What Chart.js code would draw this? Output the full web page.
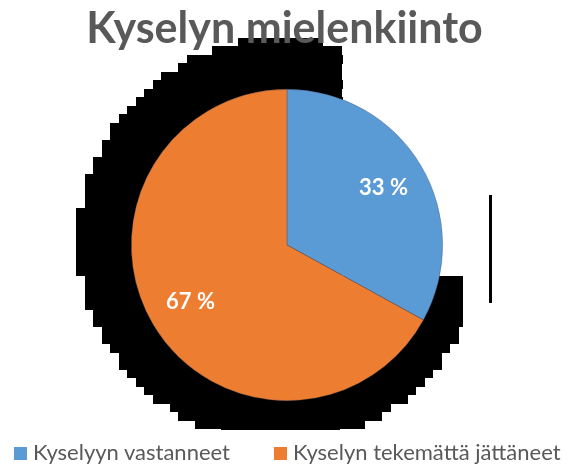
<!DOCTYPE html>
<html>
<head>
<meta charset="utf-8">
<script src="https://cdn.jsdelivr.net/npm/chart.js@4"></script>
<style>
  html, body { margin: 0; padding: 0; background: #ffffff; }
  #wrap { position: relative; width: 569px; height: 465px; overflow: hidden; }
  #title {
    position: absolute; left: 0; width: 569px; top: 5px;
    text-align: center; font: bold 43px/43px Lato, sans-serif; color: #595959;
    white-space: nowrap;
  }
  #legend {
    position: absolute; left: 14px; top: 441px;
    font: 22px/22px Lato, sans-serif; color: #595959; white-space: nowrap;
  }
  .item { display: inline-block; }
  .item:first-child { width: 260px; }
  .box { display: inline-block; width: 13px; height: 13px; margin-right: 6px; }
</style>
</head>
<body>
<div id="wrap">
  <canvas id="pieChart" width="569" height="465"></canvas>
  <div id="title"></div>
  <div id="legend"></div>
</div>
<script>
const labels = ["Kyselyyn vastanneet", "Kyselyn tekemättä jättäneet"];
const values = [33, 67];
const sliceColors = ["#5b9bd5", "#ed7d31"];
const chartTitle = "Kyselyn mielenkiinto";

document.getElementById("title").textContent = chartTitle;
const legendEl = document.getElementById("legend");
labels.forEach((l, i) => {
    const item = document.createElement("span");
    item.className = "item";
    const box = document.createElement("span");
    box.className = "box";
    box.style.background = sliceColors[i];
    item.appendChild(box);
    item.appendChild(document.createTextNode(l));
    legendEl.appendChild(item);
});

// blocky black shadow behind the pie (as in the original export)
const shadowPlugin = {
    id: "shadow",
    beforeDatasetsDraw(chart) {
        const arc = chart.getDatasetMeta(0).data[0];
        if (!arc) return;
        const cx = arc.x, cy = arc.y, r = arc.outerRadius;
        const ctx = chart.ctx;
        const sx = cx - 7, sy = cy - 5, R = r * 1.3;
        const step = 8.5;
        ctx.save();
        ctx.beginPath();
        ctx.rect(0, 0, cx + 176, cy + 185);
        ctx.clip();
        ctx.fillStyle = "#000000";
        for (let y = sy - R; y < sy + R; y += step) {
            const mid = y + step / 2 - sy;
            if (Math.abs(mid) >= R) continue;
            const dx = Math.round(Math.sqrt(R * R - mid * mid) / step) * step;
            if (dx <= 0) continue;
            let x0 = sx - dx, x1 = sx + dx;
            if (y + step < cy + 38) x1 = Math.min(x1, cx + 55);
            ctx.fillRect(Math.round(x0), Math.round(y), Math.round(x1 - x0), Math.ceil(step));
        }
        ctx.restore();
        ctx.save();
        ctx.fillStyle = "#000000";
        ctx.fillRect(Math.round(cx + 202), Math.round(cy - 50), 3, 108);
        ctx.restore();
    }
};

const sliceLabels = {
    id: "sliceLabels",
    afterDatasetsDraw(chart) {
        const ctx = chart.ctx;
        const total = values.reduce((a, b) => a + b, 0);
        ctx.save();
        ctx.fillStyle = "#ffffff";
        ctx.font = "bold 22px Lato";
        ctx.textAlign = "center";
        ctx.textBaseline = "middle";
        chart.getDatasetMeta(0).data.forEach((a, i) => {
            const ang = (a.startAngle + a.endAngle) / 2;
            const d = a.outerRadius * 0.72;
            const txt = Math.round(values[i] / total * 100) + " %";
            ctx.fillText(txt, a.x + Math.cos(ang) * d, a.y + Math.sin(ang) * d);
        });
        ctx.restore();
    }
};

new Chart("pieChart", {
    type: "pie",
    data: {
        labels: labels,
        datasets: [{
            data: values,
            backgroundColor: sliceColors,
            borderWidth: 0.6,
            borderColor: "rgba(70,70,90,0.55)"
        }]
    },
    options: {
        responsive: false,
        animation: false,
        layout: { padding: { left: 5, right: 0, top: 89, bottom: 64 } },
        plugins: {
            title: { display: false },
            legend: { display: false },
            tooltip: { enabled: false }
        }
    },
    plugins: [shadowPlugin, sliceLabels]
});
</script>
</body>
</html>
